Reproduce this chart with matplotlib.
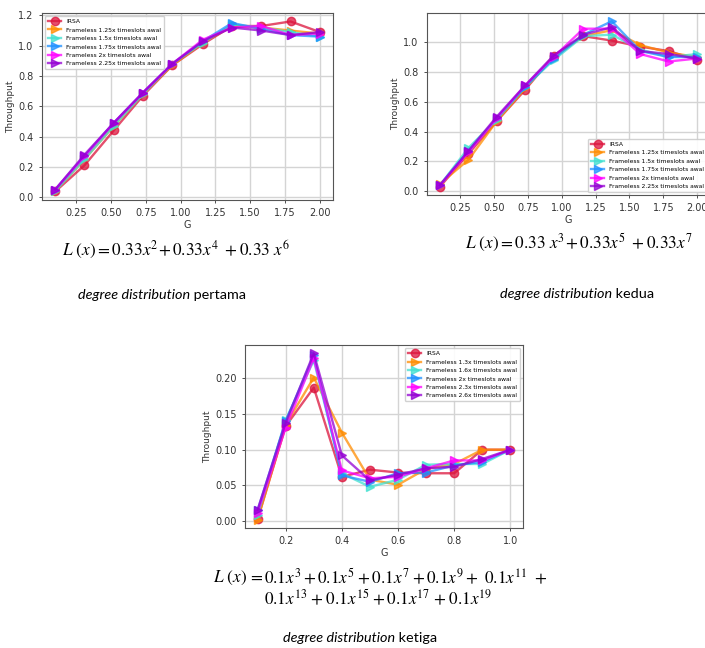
import numpy as np
import matplotlib
matplotlib.use('Agg')
import matplotlib.pyplot as plt

plt.rcParams['mathtext.fontset'] = 'stix'

# G values
g12 = [0.10, 0.31, 0.52, 0.73, 0.94, 1.16, 1.37, 1.58, 1.79, 2.00]
g3 = [0.1, 0.2, 0.3, 0.4, 0.5, 0.6, 0.7, 0.8, 0.9, 1.0]

# degree distribution pertama
irsa_1 = [0.037, 0.21, 0.44, 0.67, 0.87, 1.01, 1.13, 1.13, 1.16, 1.09]
f125_1 = [0.04, 0.25, 0.47, 0.68, 0.87, 1.02, 1.13, 1.12, 1.10, 1.08]
f15_1 = [0.04, 0.25, 0.47, 0.68, 0.88, 1.02, 1.14, 1.12, 1.09, 1.06]
f175_1 = [0.05, 0.27, 0.49, 0.69, 0.88, 1.03, 1.15, 1.11, 1.07, 1.06]
f2_1 = [0.05, 0.27, 0.49, 0.69, 0.88, 1.04, 1.12, 1.13, 1.07, 1.08]
f225_1 = [0.05, 0.28, 0.49, 0.69, 0.88, 1.03, 1.12, 1.10, 1.07, 1.09]

# degree distribution kedua
irsa_2 = [0.03, 0.25, 0.47, 0.68, 0.91, 1.04, 1.01, 0.97, 0.94, 0.88]
f125_2 = [0.05, 0.21, 0.47, 0.69, 0.90, 1.04, 1.08, 0.98, 0.93, 0.90]
f15_2 = [0.04, 0.29, 0.48, 0.70, 0.88, 1.04, 1.05, 0.95, 0.90, 0.92]
f175_2 = [0.04, 0.27, 0.49, 0.70, 0.89, 1.05, 1.14, 0.94, 0.90, 0.90]
f2_2 = [0.04, 0.26, 0.49, 0.71, 0.90, 1.09, 1.09, 0.92, 0.87, 0.89]
f225_2 = [0.04, 0.27, 0.50, 0.71, 0.91, 1.05, 1.10, 0.94, 0.92, 0.89]

# degree distribution ketiga
irsa_3 = [0.003, 0.133, 0.187, 0.062, 0.072, 0.068, 0.067, 0.067, 0.100, 0.100]
f13_3 = [0.002, 0.135, 0.201, 0.124, 0.058, 0.051, 0.073, 0.080, 0.100, 0.100]
f16_3 = [0.008, 0.142, 0.225, 0.067, 0.048, 0.058, 0.079, 0.080, 0.080, 0.100]
f2_3 = [0.015, 0.140, 0.232, 0.064, 0.055, 0.067, 0.068, 0.078, 0.083, 0.100]
f23_3 = [0.012, 0.131, 0.228, 0.071, 0.060, 0.062, 0.074, 0.085, 0.085, 0.100]
f26_3 = [0.016, 0.138, 0.235, 0.092, 0.057, 0.065, 0.074, 0.076, 0.087, 0.100]

labels_12 = ['IRSA', 'Frameless 1.25x timeslots awal', 'Frameless 1.5x timeslots awal',
             'Frameless 1.75x timeslots awal', 'Frameless 2x timeslots awal',
             'Frameless 2.25x timeslots awal']
labels_3 = ['IRSA', 'Frameless 1.3x timeslots awal', 'Frameless 1.6x timeslots awal',
            'Frameless 2x timeslots awal', 'Frameless 2.3x timeslots awal',
            'Frameless 2.6x timeslots awal']

colors = ['crimson', 'darkorange', 'turquoise', 'dodgerblue', 'magenta', 'darkviolet']
markers = ['o', '>', '>', '>', '>', '>']


def draw(ax, g, series, labels, loc):
    for y, lab, c, m in zip(series, labels, colors, markers):
        ax.plot(g, y, color=c, marker=m, lw=1.7, ms=6, alpha=0.75, label=lab)
    ax.grid(True, color='#d4d4d4', lw=1)
    ax.set_axisbelow(True)
    ax.tick_params(labelsize=7, length=2.5, width=0.6, colors='#333333')
    for s in ax.spines.values():
        s.set_color('#555555')
        s.set_linewidth(0.8)
    ax.set_xlabel('G', fontsize=7, labelpad=1, color='#333333')
    ax.set_ylabel('Throughput', fontsize=6.5, labelpad=2, color='#333333')
    ax.legend(loc=loc, fontsize=4.3, handlelength=2.2, labelspacing=0.55,
              borderpad=0.5, framealpha=0.9, edgecolor='#cccccc')


fig = plt.figure(figsize=(7.05, 6.48), dpi=100)

ax1 = fig.add_axes([0.0596, 0.6914, 0.4128, 0.2886])
draw(ax1, g12, [irsa_1, f125_1, f15_1, f175_1, f2_1, f225_1], labels_12, 'upper left')
ax1.set_xticks([0.25, 0.5, 0.75, 1.0, 1.25, 1.5, 1.75, 2.0])

ax2 = fig.add_axes([0.6057, 0.699, 0.4014, 0.281])
draw(ax2, g12, [irsa_2, f125_2, f15_2, f175_2, f2_2, f225_2], labels_12, 'lower right')
ax2.set_xticks([0.25, 0.5, 0.75, 1.0, 1.25, 1.5, 1.75, 2.0])
ax2.set_yticks([0.0, 0.2, 0.4, 0.6, 0.8, 1.0])

ax3 = fig.add_axes([0.3475, 0.1852, 0.3943, 0.2824])
draw(ax3, g3, [irsa_3, f13_3, f16_3, f2_3, f23_3, f26_3], labels_3, 'upper right')
ax3.set_xticks([0.2, 0.4, 0.6, 0.8, 1.0])

# text layer
tx = fig.add_axes([0, 0, 1, 1])
tx.axis('off')
tx.set_xlim(0, 705)
tx.set_ylim(648, 0)

fsz = 12.4
tx.text(62, 250, r'$L\ (x) = 0.33x^2\!+ 0.33x^4\ + 0.33\ x^6$', fontsize=fsz, va='center')
tx.text(465, 243, r'$L\ (x) = 0.33\ x^3\!+ 0.33x^5\ + 0.33x^7$', fontsize=fsz, va='center')
t3 = tx.text(213, 578, r'$L\ (x)\,{=}\,$', fontsize=fsz, va='center')
t3b = tx.annotate(r'$0.1x^3\,{+}\,0.1x^5\;{+}\,0.1x^7\;{+}\,0.1x^9\,{+}\;\;0.1x^{11}\;\;{+}$',
                  xy=(1, 0.5), xycoords=t3, va='center', fontsize=fsz)
tx.annotate(r'$0.1x^{13}\;{+}\;0.1x^{15}\;{+}\,0.1x^{17}\;{+}\;0.1x^{19}$',
            xy=(0, 0.5), xycoords=t3b, xytext=(0, -15), textcoords='offset points',
            va='center', fontsize=fsz)


def caption(x, y, rest):
    t = tx.text(x, y, 'degree distribution', fontsize=10.4, family='Lato',
                style='italic', va='bottom')
    tx.annotate(' ' + rest, xy=(1, 0), xycoords=t, fontsize=10.4, family='Lato',
                va='bottom')


caption(78, 301, 'pertama')
caption(500, 300, 'kedua')
caption(283, 644, 'ketiga')

fig.savefig('out.png', dpi=100, facecolor='white')
